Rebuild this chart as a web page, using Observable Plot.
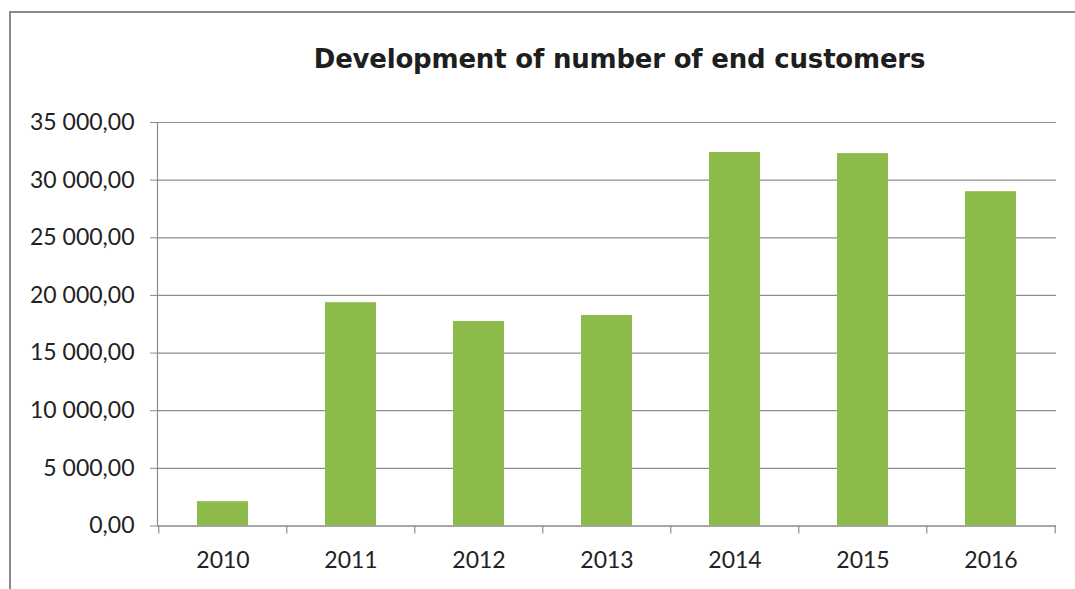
<!DOCTYPE html>
<html>
<head>
<meta charset="utf-8">
<script src="https://cdn.jsdelivr.net/npm/d3@7"></script>
<script src="https://cdn.jsdelivr.net/npm/@observablehq/plot@0.6"></script>
<style>
  html, body { margin: 0; padding: 0; background: #fff; width: 1075px; height: 589px; overflow: hidden; }
  #frame { position: absolute; left: 9px; top: 11px; width: 1100px; height: 620px;
           border-top: 2px solid #8a8a8a; border-left: 2px solid #8a8a8a; }
  #title { position: absolute; left: 0; width: 1239px; top: 44px; text-align: center;
           font: bold 26px "DejaVu Sans", sans-serif; letter-spacing: -0.2px; color: #1e1e1e; margin: 0; }
  #chart { position: absolute; left: 0; top: 100px; }
</style>
</head>
<body>
<div id="frame"></div>
<h1 id="title">Development of number of end customers</h1>
<div id="chart"></div>
<script>
const years = ["2010", "2011", "2012", "2013", "2014", "2015", "2016"];
const customers = [2110, 19370, 17740, 18260, 32400, 32300, 29000];
const yTicks = [0, 5000, 10000, 15000, 20000, 25000, 30000, 35000];

const data = years.map((year, i) => ({year, value: customers[i]}));

const locale = d3.formatLocale({decimal: ",", thousands: "\u00a0", grouping: [3]});
const fmt = locale.format(",.2f");

const W = 1075, H = 489, ML = 157, MR = 19, MT = 22, MB = 63.5;
const bw = (W - ML - MR) / years.length;

const plot = Plot.plot({
  width: W,
  height: H,
  marginLeft: ML,
  marginRight: MR,
  marginTop: MT,
  marginBottom: MB,
  style: {fontFamily: "Lato, sans-serif", fontSize: "23px", color: "#222", background: "transparent"},
  x: {domain: years, padding: 0.6, paddingOuter: 0.3, label: null},
  y: {domain: [0, 35000], label: null},
  marks: [
    Plot.gridY(yTicks, {stroke: "#8c8c8c", strokeOpacity: 1, strokeWidth: 1.2}),
    Plot.barY(data, {x: "year", y: "value", fill: "#8dbb4b"}),
    Plot.ruleY([0], {stroke: "#8c8c8c", strokeWidth: 1.2}),
    Plot.frame({anchor: "left", stroke: "#8c8c8c", strokeWidth: 1.2}),
    Plot.axisY(yTicks, {tickSize: 7, tickPadding: 16, tickFormat: fmt, stroke: "#8c8c8c", fill: "#222"}),
    Plot.ruleX(years, {x: d => d, y1: 0, y2: -700, dx: -bw / 2, stroke: "#8c8c8c", strokeWidth: 1.2}),
    Plot.ruleX(years.slice(-1), {x: d => d, y1: 0, y2: -700, dx: bw / 2, stroke: "#8c8c8c", strokeWidth: 1.2}),
    Plot.axisX({tickSize: 0, tickPadding: 26, fill: "#222", label: null})
  ]
});
document.getElementById("chart").appendChild(plot);
</script>
</body>
</html>
